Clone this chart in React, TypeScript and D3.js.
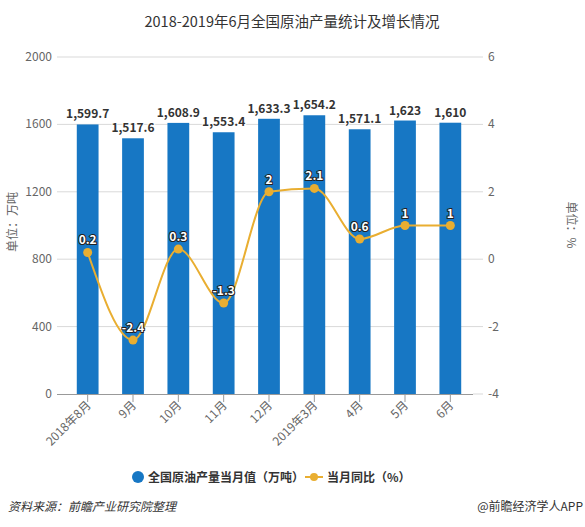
import React from "react";
import * as d3 from "d3";

const categories = ["2018年8月", "9月", "10月", "11月", "12月", "2019年3月", "4月", "5月", "6月"];
const output = [1599.7, 1517.6, 1608.9, 1553.4, 1633.3, 1654.2, 1571.1, 1623, 1610];
const growth = [0.2, -2.4, 0.3, -1.3, 2, 2.1, 0.6, 1, 1];
const leftTicks = [0, 400, 800, 1200, 1600, 2000];
const rightTicks = [-4, -2, 0, 2, 4, 6];

const W = 585, H = 527;
const FONT = "'Noto Sans CJK SC', 'Noto Sans', sans-serif";
const BAR = "#1777c4";
const LINE = "#e9ae31";

export default function App() {
  const x = d3.scaleBand<string>().domain(categories).range([65, 473]).paddingInner(0.52).paddingOuter(0.26);
  const xc = (c: string) => (x(c) as number) + x.bandwidth() / 2;
  const yL = d3.scaleLinear().domain([0, 2000]).range([394, 57]);
  const yR = d3.scaleLinear().domain([-4, 6]).range([394, 57]);
  const fmt = d3.format(",");
  const line = d3
    .line<number>()
    .x((_, i) => xc(categories[i]))
    .y((d) => yR(d))
    .curve(d3.curveMonotoneX);

  return (
    <svg width={W} height={H} style={{ position: "absolute", left: 0, top: 0, background: "#fff" }} fontFamily={FONT}>
      <text x={292} y={27} textAnchor="middle" fontSize={14.5} fill="#333">
        2018-2019年6月全国原油产量统计及增长情况
      </text>
      {leftTicks.map((t) => (
        <g key={t}>
          {t !== 0 && <line x1={57} x2={473} y1={yL(t)} y2={yL(t)} stroke="#d9d9d9" strokeWidth={1} />}
          <text x={52} y={yL(t) + 4} textAnchor="end" fontSize={12} fill="#666">
            {t}
          </text>
        </g>
      ))}
      {rightTicks.map((t) => (
        <g key={t}>
          <line x1={473} x2={483} y1={yR(t)} y2={yR(t)} stroke="#d9d9d9" />
          <text x={488} y={yR(t) + 4} textAnchor="start" fontSize={12} fill="#666">
            {t}
          </text>
        </g>
      ))}
      <text transform={`translate(17,222) rotate(-90)`} textAnchor="middle" fontSize={12} fill="#666">
        单位：万吨
      </text>
      <text transform={`translate(567,225) rotate(90)`} textAnchor="middle" fontSize={12} fill="#666">
        单位：%
      </text>
      {categories.map((c, i) => (
        <rect key={c} x={x(c)} y={yL(output[i])} width={x.bandwidth()} height={yL(0) - yL(output[i])} fill={BAR} />
      ))}
      <line x1={57} x2={473} y1={394.5} y2={394.5} stroke="#999" strokeWidth={1} />
      {categories.map((c) => (
        <g key={c}>
          <line x1={xc(c)} x2={xc(c)} y1={394} y2={402} stroke="#999" />
          <text
            transform={`translate(${xc(c) + 4},${406}) rotate(-45)`}
            textAnchor="end"
            fontSize={12}
            fill="#666"
          >
            {c}
          </text>
        </g>
      ))}
      {categories.map((c, i) => (
        <text
          key={c}
          x={xc(c)}
          y={yL(output[i]) - 6}
          textAnchor="middle"
          fontSize={12}
          fontWeight="bold"
          fill="#333"
          stroke="#fff"
          strokeWidth={2}
          paintOrder="stroke"
        >
          {fmt(output[i])}
        </text>
      ))}
      <path d={line(growth) as string} fill="none" stroke={LINE} strokeWidth={2} />
      {categories.map((c, i) => (
        <circle key={c} cx={xc(c)} cy={yR(growth[i])} r={4.5} fill={LINE} />
      ))}
      {categories.map((c, i) => (
        <text
          key={c}
          x={xc(c)}
          y={yR(growth[i]) - 8}
          textAnchor="middle"
          fontSize={12}
          fontWeight="bold"
          fill="#fff"
          stroke="#222"
          strokeWidth={2}
          paintOrder="stroke"
        >
          {growth[i]}
        </text>
      ))}
      <circle cx={138} cy={477} r={6} fill={BAR} />
      <text x={148} y={481.5} fontSize={12} fontWeight="bold" fill="#333">
        全国原油产量当月值（万吨）
      </text>
      <line x1={305} x2={323} y1={477} y2={477} stroke={LINE} strokeWidth={2} />
      <circle cx={314} cy={477} r={4} fill={LINE} />
      <text x={327} y={481.5} fontSize={12} fontWeight="bold" fill="#333">
        当月同比（%）
      </text>
      <text x={8} y={511} fontSize={12} fontStyle="italic" fill="#333">
        资料来源：前瞻产业研究院整理
      </text>
      <text x={583} y={511} textAnchor="end" fontSize={12} fill="#333">
        @前瞻经济学人APP
      </text>
    </svg>
  );
}
